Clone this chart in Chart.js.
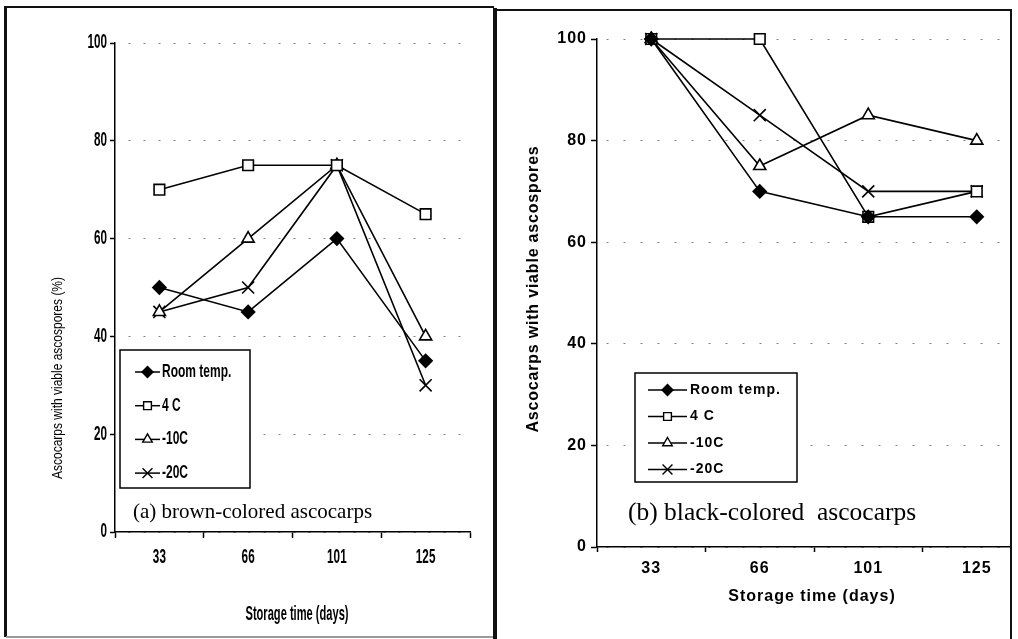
<!DOCTYPE html>
<html><head><meta charset="utf-8">
<script src="https://cdn.jsdelivr.net/npm/chart.js@4"></script>
<style>
html,body{margin:0;padding:0;background:#fff;}
body{width:1018px;height:639px;position:relative;overflow:hidden;}
#leftWrap{position:absolute;left:0;top:0;width:493px;height:639px;overflow:hidden;}
#rightWrap{position:absolute;left:497px;top:0;width:514px;height:639px;overflow:hidden;}
.ln{position:absolute;background:#111;}
canvas{display:block;}
</style></head><body>
<div id="leftWrap"><canvas id="c1" width="493" height="639" style="width:493px;height:639px"></canvas></div>
<div id="rightWrap"><canvas id="c2" width="560" height="639" style="width:560px;height:639px"></canvas></div>
<div class="ln" style="left:4px;top:6px;width:3px;height:631px"></div>
<div class="ln" style="left:4px;top:6px;width:490px;height:2px"></div>
<div class="ln" style="left:6px;top:636px;width:487px;height:2px;background:#9a9a9a"></div>
<div class="ln" style="left:493px;top:8px;width:4px;height:631px"></div>
<div class="ln" style="left:493px;top:9px;width:519px;height:2px"></div>
<div class="ln" style="left:1010px;top:9px;width:2px;height:630px"></div>
<script>
// ---- data ----
const days = ['33', '66', '101', '125'];
const seriesNames = ['Room temp.', '4 C', '-10C', '-20C'];
const yTicks = [0, 20, 40, 60, 80, 100];
// (a) brown-colored ascocarps
const brownRoom = [50, 45, 60, 35];
const brown4C   = [70, 75, 75, 65];
const brownM10  = [45, 60, 75, 40];
const brownM20  = [45, 50, 75, 30];
// (b) black-colored ascocarps
const blackRoom = [100, 70, 65, 65];
const black4C   = [100, 100, 65, 70];
const blackM10  = [100, 75, 85, 80];
const blackM20  = [100, 85, 70, 70];

const SANS = "'Liberation Sans',Arial,sans-serif";
const SERIF = "'Liberation Serif','Times New Roman',serif";

const markerStyles = [
  {pointStyle:'rectRot', bg:'#000', r:6.5},
  {pointStyle:'rect', bg:'#fff', r:7.5},
  {pointStyle:'triangle', bg:'#fff', r:7},
  {pointStyle:'crossRot', bg:'#000', r:8.5}
];
function makeSets(arrs){
  return arrs.map((data,i)=>({
    label: seriesNames[i], data,
    borderColor:'#000', borderWidth:1.6, tension:0,
    pointStyle: markerStyles[i].pointStyle,
    pointRadius: markerStyles[i].r, pointHoverRadius: markerStyles[i].r,
    pointBackgroundColor: markerStyles[i].bg, pointBorderColor:'#000', pointBorderWidth:1.6,
    fill:false, clip:false
  }));
}

function drawScaled(ctx, text, x, y, sx, sy){
  ctx.save(); ctx.translate(x, y); ctx.scale(sx||1, sy||1);
  CanvasRenderingContext2D.prototype.fillText.call(ctx, text, 0, 0);
  ctx.restore();
}
// squeeze scale text (tick labels) for the condensed look of panel (a)
const squeeze = {
  id:'squeeze',
  beforeDraw(chart, args, o){
    if (!o || !o.sx) return;
    const ctx = chart.ctx;
    ctx.fillText = function(t, x, y){ drawScaled(this, t, x, y, o.sx, o.sy); };
  },
  beforeDatasetsDraw(chart){ delete chart.ctx.fillText; }
};
const textPlugin = {
  id:'texts',
  afterDraw(chart, args, opts){
    const ctx = chart.ctx;
    (opts.items||[]).forEach(t=>{
      ctx.save();
      ctx.fillStyle = '#000';
      ctx.font = t.font;
      ctx.letterSpacing = t.ls || '0px';
      ctx.textAlign = t.align || 'center';
      ctx.textBaseline = 'middle';
      ctx.translate(t.x, t.y);
      if (t.rot) ctx.rotate(t.rot);
      drawScaled(ctx, t.text, 0, 0, t.sx, t.sy);
      ctx.restore();
    });
  }
};
const boxLegend = {
  id:'boxLegend',
  afterDraw(chart, args, o){
    if (!o || o.x === undefined) return;
    const ctx = chart.ctx;
    ctx.save();
    ctx.fillStyle = '#fff'; ctx.fillRect(o.x, o.y, o.w, o.h);
    ctx.lineWidth = 1.5; ctx.strokeStyle = '#000'; ctx.strokeRect(o.x, o.y, o.w, o.h);
    chart.data.datasets.forEach((d,i)=>{
      const y = o.y + o.first + i*o.gap;
      ctx.beginPath(); ctx.moveTo(o.lx1, y); ctx.lineTo(o.lx2, y);
      ctx.lineWidth = 1.5; ctx.strokeStyle = '#000'; ctx.stroke();
      ctx.fillStyle = d.pointBackgroundColor; ctx.strokeStyle = '#000'; ctx.lineWidth = 1.4;
      const r = d.pointStyle === 'crossRot' ? o.r + 1.5 : o.r;
      Chart.helpers.drawPoint(ctx, {pointStyle:d.pointStyle, radius:r, rotation:0, borderWidth:1.4}, (o.lx1+o.lx2)/2, y);
      ctx.fillStyle = '#000'; ctx.font = o.font; ctx.letterSpacing = o.ls || '0px';
      ctx.textAlign = 'left'; ctx.textBaseline = 'middle';
      drawScaled(ctx, d.label, o.tx, y, o.sx, o.sy);
    });
    ctx.restore();
  }
};
const spacing = {
  id:'spacing',
  beforeDraw(chart, args, o){ if (o && o.ls) chart.ctx.letterSpacing = o.ls; }
};

function buildOptions(cfg){
  return {
    responsive:false, animation:false, devicePixelRatio:1,
    layout:{padding:{top:cfg.top, left:0, right:cfg.right, bottom:0}},
    plugins:{
      legend:{display:false}, tooltip:{enabled:false},
      texts:{items:cfg.texts}, boxLegend:cfg.legend, spacing:{ls:cfg.ls},
      squeeze:cfg.squeeze || {}
    },
    scales:{
      x:{
        type:'category', offset:true,
        grid:{offset:true, drawOnChartArea:false, drawTicks:true, tickLength:cfg.xTickLen, tickColor:'#000', tickWidth:1.5},
        border:{color:'#000', width:1.5},
        ticks:{color:'#000', font:cfg.tickFont, padding:cfg.xPad, maxRotation:0, autoSkip:false},
        afterFit(s){ s.height = cfg.xH; }
      },
      y:{
        min:0, max:100,
        afterBuildTicks(s){ s.ticks = yTicks.map(v=>({value:v})); },
        grid:{color:'#808080', lineWidth:1, drawTicks:true, tickLength:cfg.yTickLen, tickColor:'#000', tickWidth:1.5},
        border:{color:'#000', width:1.5, dash:cfg.dash, dashOffset:cfg.dashOff},
        ticks:{color:'#000', font:cfg.tickFont, padding:cfg.yPad},
        afterFit(s){ s.width = cfg.yW; }
      }
    }
  };
}

new Chart(document.getElementById('c1'), {
  type:'line',
  data:{labels:days, datasets:makeSets([brownRoom, brown4C, brownM10, brownM20])},
  options:buildOptions({
    top:43, right:23, xH:107, yW:115, xTickLen:6, yTickLen:5, xPad:11, yPad:3,
    dash:[2,13], dashOff:2,
    tickFont:{family:SANS, size:15, weight:'bold'},
    squeeze:{sx:0.78, sy:1.3},
    texts:[
      {text:'Ascocarps with viable ascospores (%)', x:58, y:378, rot:-Math.PI/2, font:'15px '+SANS, sx:0.8, sy:1.0},
      {text:'Storage time (days)', x:297, y:615, font:'bold 15px '+SANS, sx:0.74, sy:1.3},
      {text:'(a) brown-colored ascocarps', x:133, y:512, align:'left', font:'21px '+SERIF}
    ],
    legend:{x:120, y:350, w:130, h:138, first:22, gap:33.7, lx1:135, lx2:160, tx:162, r:5.5, font:'bold 16px '+SANS, sx:0.75, sy:1.15}
  }),
  plugins:[squeeze, textPlugin, boxLegend]
});

new Chart(document.getElementById('c2'), {
  type:'line',
  data:{labels:days, datasets:makeSets([blackRoom, black4C, blackM10, blackM20])},
  options:buildOptions({
    top:39, right:26, xH:92, yW:100, xTickLen:5, yTickLen:6, xPad:7, yPad:4,
    dash:[2,15], dashOff:8, ls:'1px',
    tickFont:{family:SANS, size:16, weight:'bold'},
    texts:[
      {text:'Ascocarps with viable ascospores', x:37, y:289, rot:-Math.PI/2, font:'bold 16px '+SANS, ls:'0.8px'},
      {text:'Storage time (days)', x:315, y:597, font:'bold 16px '+SANS, ls:'1px'},
      {text:'(b) black-colored  ascocarps', x:131, y:513, align:'left', font:'25.5px '+SERIF}
    ],
    legend:{x:138, y:373, w:162, h:109, first:17, gap:26.5, lx1:151, lx2:190, tx:193, r:5.5, font:'bold 14px '+SANS, ls:'1px'}
  }),
  plugins:[spacing, textPlugin, boxLegend]
});
</script>
</body></html>
